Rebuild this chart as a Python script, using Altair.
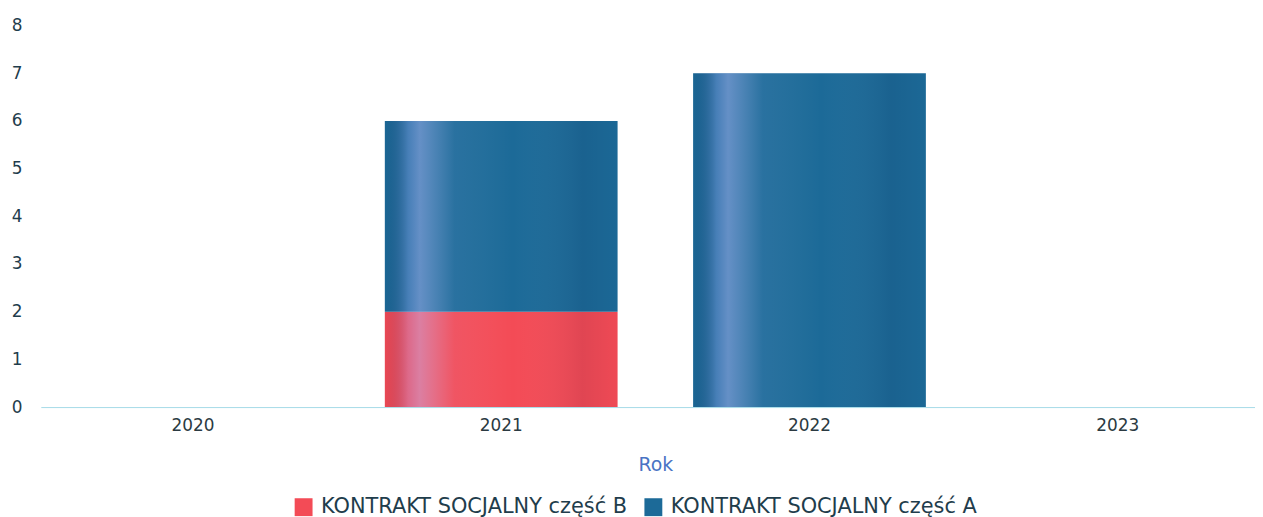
import altair as alt
import pandas as pd

years = ["2020", "2021", "2022", "2023"]
series = ["KONTRAKT SOCJALNY część B", "KONTRAKT SOCJALNY część A"]
values_b = [0, 2, 0, 0]
values_a = [0, 4, 7, 0]
colors = ["#f34b56", "#1c6a98"]

rows = []
for i, y in enumerate(years):
    rows.append({"Rok": y, "seria": series[0], "wartosc": values_b[i], "kolejnosc": 0})
    rows.append({"Rok": y, "seria": series[1], "wartosc": values_a[i], "kolejnosc": 1})
df = pd.DataFrame(rows)

FONT = "DejaVu Sans"

x_enc = alt.X(
    "Rok:N",
    sort=years,
    scale=alt.Scale(domain=years, paddingInner=0.245, paddingOuter=0.116, range=[3, 1240]),
    axis=alt.Axis(
        title="Rok",
        labelAngle=0,
        labelFontSize=17,
        labelColor="#2b3a42",
        labelPadding=11,
        ticks=False,
        domainColor="#a6dbe8",
        domainWidth=1,
        titleColor="#4a73c4",
        titleFontSize=19,
        titleFontWeight="normal",
        titlePadding=22,
        labelFont=FONT,
        titleFont=FONT,
    ),
)
y_enc = alt.Y(
    "wartosc:Q",
    stack="zero",
    scale=alt.Scale(domain=[0, 8], nice=False),
    axis=alt.Axis(
        title=None,
        values=list(range(0, 9)),
        labelFontSize=17,
        labelColor="#1f3d4c",
        labelPadding=16,
        ticks=False,
        domain=False,
        grid=False,
        labelFont=FONT,
    ),
)

base = alt.Chart(df).mark_bar().encode(
    x=x_enc,
    y=y_enc,
    order=alt.Order("kolejnosc:Q"),
    color=alt.Color(
        "seria:N",
        scale=alt.Scale(domain=series, range=colors),
        legend=alt.Legend(
            title=None,
            orient="none",
            legendX=257,
            legendY=474,
            direction="horizontal",
            symbolType="square",
            symbolSize=324,
            symbolStrokeWidth=0,
            labelFontSize=21,
            labelColor="#1f3d4c",
            labelFont=FONT,
            labelLimit=700,
            columnPadding=15,
            labelOffset=7,
        ),
    ),
)

shine = alt.LinearGradient(
    gradient="linear",
    x1=0, x2=1, y1=0, y2=0,
    stops=[
        alt.GradientStop(color="rgba(0,0,40,0.04)", offset=0),
        alt.GradientStop(color="rgba(170,175,255,0.30)", offset=0.10),
        alt.GradientStop(color="rgba(190,190,255,0.45)", offset=0.15),
        alt.GradientStop(color="rgba(200,200,255,0.08)", offset=0.30),
        alt.GradientStop(color="rgba(255,255,255,0)", offset=0.55),
        alt.GradientStop(color="rgba(0,0,40,0.08)", offset=0.85),
        alt.GradientStop(color="rgba(0,0,40,0.02)", offset=1),
    ],
)

overlay = alt.Chart(df).mark_bar(color=shine).encode(
    x=alt.X("Rok:N", sort=years),
    y=alt.Y("wartosc:Q", stack="zero"),
    order=alt.Order("kolejnosc:Q"),
    detail="seria:N",
)

chart = (
    alt.layer(base, overlay)
    .properties(
        width=1225,
        height=384,
        autosize=alt.AutoSizeParams(type="none"),
        padding={"left": 30, "top": 16, "right": 0, "bottom": 110},
    )
    .configure(font=FONT)
    .configure_view(stroke=None, strokeWidth=0)
)

chart.save("out.html", embed_options={"renderer": "svg", "actions": False})
